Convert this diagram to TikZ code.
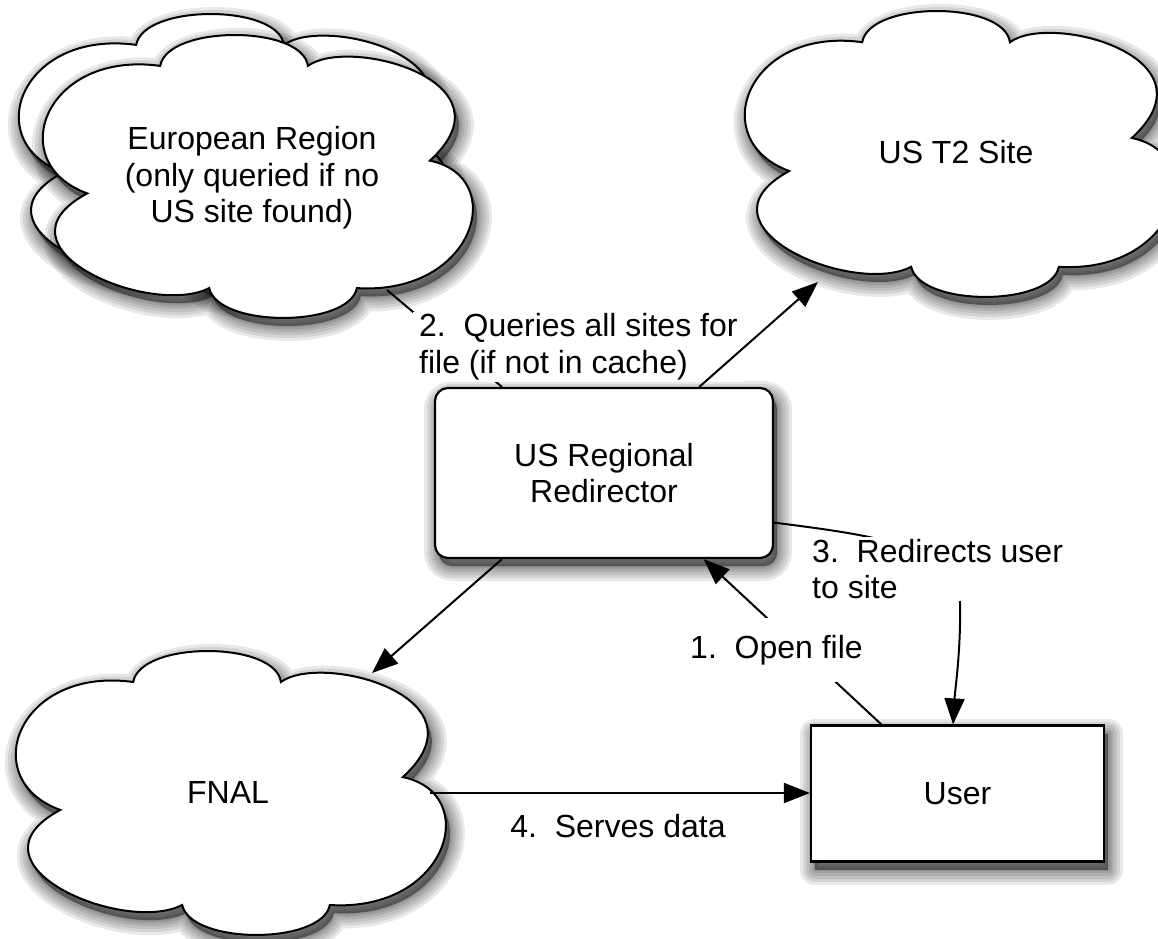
\documentclass[tikz,border=0pt]{standalone}
\usepackage{fontspec}
\setmainfont{Liberation Sans}
\usetikzlibrary{arrows.meta,calc}
\newcommand{\dfont}{\fontsize{32pt}{36.5pt}\selectfont}
% cloud outline: #1,#2 = top-left corner, #3 = width, #4 = height
\newcommand{\drawcloud}[4]{%
  \path[cloudline] ({#1+0.273*#3},{#2+0.106*#4})
    .. controls ({#1+0.29*#3},{#2-0.04*#4}) and ({#1+0.61*#3},{#2-0.04*#4}) .. ({#1+0.623*#3},{#2+0.106*#4})
    .. controls ({#1+0.72*#3},{#2}) and ({#1+1.12*#3},{#2+0.16*#4}) .. ({#1+0.912*#3},{#2+0.442*#4})
    .. controls ({#1+1.10*#3},{#2+0.50*#4}) and ({#1+1.02*#3},{#2+0.92*#4}) .. ({#1+0.739*#3},{#2+0.894*#4})
    .. controls ({#1+0.72*#3},{#2+1.035*#4}) and ({#1+0.41*#3},{#2+1.035*#4}) .. ({#1+0.389*#3},{#2+0.894*#4})
    .. controls ({#1+0.25*#3},{#2+1.0*#4}) and ({#1-0.14*#3},{#2+0.75*#4}) .. ({#1+0.10*#3},{#2+0.558*#4})
    .. controls ({#1-0.10*#3},{#2+0.45*#4}) and ({#1},{#2+0.05*#4}) .. cycle;
}
\tikzset{
  shadowlayer/.style={preaction={draw=black, fill=black, opacity=0.09, line join=round,
      line width=#1, transform canvas={xshift=4pt, yshift=-8pt}}},
  softshadow/.style={shadowlayer=30pt, shadowlayer=24pt, shadowlayer=18pt, shadowlayer=12pt,
      shadowlayer=7pt, shadowlayer=3pt},
  cloudline/.style={draw=black, fill=white, line width=2pt, softshadow},
  txt/.style={font=\dfont, align=center, inner sep=0pt},
  rbox/.style={draw=black, fill=white, line width=2.2pt, rounded corners=13pt,
      minimum width=338pt, minimum height=170pt, font=\dfont, align=center, softshadow},
  ubox/.style={draw=black, fill=white, line width=2.2pt,
      minimum width=293pt, minimum height=136pt, font=\dfont, align=center, softshadow},
  conn/.style={draw=black, line width=2pt},
  arr/.style={conn, -{Triangle[length=26pt,width=20pt]}},
  lbl/.style={font=\dfont, fill=white, align=left, inner xsep=6pt, inner ysep=2pt},
}
\begin{document}
\begin{tikzpicture}[x=1pt,y=-1pt]
\useasboundingbox (0,0) rectangle (1158,938);
% clouds
\drawcloud{21}{15}{422}{282}
\drawcloud{45}{36}{422}{282}
\node[txt] (euro) at (252,178) {European Region\\(only queried if no\\US site found)};
\drawcloud{747}{12}{422}{285}
\node[txt] (t2) at (956,152) {US T2 Site};
\drawcloud{18}{652}{422}{283}
\node[txt] (fnal) at (228,792) {FNAL};
% boxes
\node[rbox] (redir) at (604,473) {US Regional\\Redirector};
\node[ubox] (user) at (957.5,793.5) {User};
% connector end points
\coordinate (euroq) at (387,290);
\coordinate (t2in) at (818,282);
\coordinate (fnalin) at (372,673);
\coordinate (fnalout) at (430,793);
\coordinate (rtopl) at ($(redir.north west)!0.2!(redir.north east)$);
\coordinate (rtopr) at ($(redir.north west)!0.78!(redir.north east)$);
\coordinate (rbotl) at ($(redir.south west)!0.2!(redir.south east)$);
\coordinate (rbotr) at ($(redir.south west)!0.793!(redir.south east)$);
\coordinate (rright) at ($(redir.south east)!0.212!(redir.north east)$);
\coordinate (utopl) at ($(user.north west)!0.242!(user.north east)$);
\coordinate (utopm) at ($(user.north west)!0.485!(user.north east)$);
\coordinate (bend) at (960,603);
% connectors
\draw[conn] (euroq) -- (rtopl);
\draw[arr] (rbotl) -- (fnalin);
\draw[arr] (utopl) -- (rbotr);
\draw[arr] (rright) .. controls (870,535) and (958,545) .. (bend)
                    .. controls (961,650) and (955,690) .. (utopm);
\draw[arr] (fnalout) -- (fnalout -| user.west);
% labels
\node[lbl, anchor=base west, inner xsep=4pt, inner ysep=17pt] (l1) at (686,658) {1.\ \ Open file};
\node[lbl, anchor=north west] (l2) at (413,311.5) {2.\ \ Queries all sites for\\file (if not in cache)};
\node[lbl, anchor=north west] (l3) at (806,537) {3.\ \ Redirects user\\to site};
\node[font=\dfont, inner sep=0pt, anchor=base] (l4) at (618,837) {4.\ \ Serves data};
\draw[arr] (rtopr) -- (t2in);
\end{tikzpicture}
\end{document}
